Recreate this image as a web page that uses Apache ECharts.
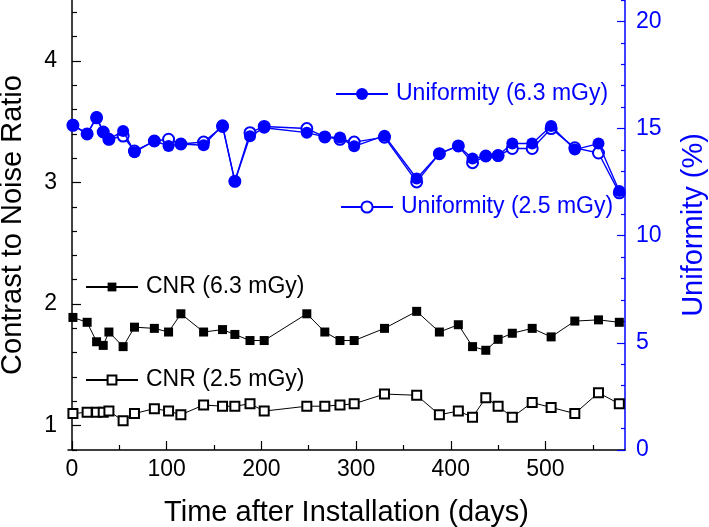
<!DOCTYPE html>
<html>
<head>
<meta charset="utf-8">
<script src="https://cdn.jsdelivr.net/npm/echarts@6/dist/echarts.min.js"></script>
<style>
html,body{margin:0;padding:0;background:#fff;}
#c{width:709px;height:527px;}
</style>
</head>
<body>
<div id="c"></div>
<script>
// ---- data ----
var days = [1,16,26,33,39,54,66,87,102,115,139,159,172,188,203,248,267,283,298,330,364,388,408,423,437,450,465,486,506,531,556,578];
var cnr63 = [1.89,1.85,1.69,1.66,1.77,1.65,1.81,1.80,1.77,1.92,1.77,1.79,1.75,1.70,1.70,1.92,1.77,1.70,1.70,1.80,1.94,1.77,1.83,1.65,1.62,1.71,1.76,1.80,1.73,1.86,1.87,1.85];
var cnr25 = [1.10,1.11,1.11,1.11,1.12,1.04,1.10,1.14,1.12,1.09,1.17,1.16,1.16,1.18,1.12,1.16,1.16,1.17,1.18,1.26,1.25,1.09,1.12,1.07,1.23,1.16,1.07,1.19,1.15,1.10,1.27,1.18];
var unif63 = [15.18,14.75,15.54,14.84,14.5,14.89,13.9,14.42,14.19,14.28,14.22,15.15,12.54,14.64,15.04,14.81,14.61,14.58,14.17,14.67,12.67,13.83,14.19,13.6,13.72,13.74,14.3,14.3,15.12,14.02,14.3,12.09];
var unif25 = [15.15,14.75,15.5,14.84,14.5,14.65,13.95,14.42,14.5,14.28,14.37,15.1,12.54,14.81,15.1,15.0,14.61,14.5,14.37,14.6,12.51,13.83,14.19,13.41,13.72,13.74,14.07,14.07,15.0,14.1,13.86,12.0];
var xMajor = [0,100,200,300,400,500];
var xMinor = [50,150,250,350,450,550];
var yLeftMajor = [1,2,3,4];
var yLeftMinor = [0.8,1.2,1.4,1.6,1.8,2.2,2.4,2.6,2.8,3.2,3.4,3.6,3.8,4.2,4.4];
var yRightMajor = [0,5,10,15,20];
var yRightMinor = [1,2,3,4,6,7,8,9,11,12,13,14,16,17,18,19,21];
var names = ['CNR (6.3 mGy)','CNR (2.5 mGy)','Uniformity (2.5 mGy)','Uniformity (6.3 mGy)'];

function pairs(xs, ys){ return xs.map(function(x,i){ return [x, ys[i]]; }); }

var FONT = '"Liberation Sans", Arial, sans-serif';
var BLUE = '#0000ff';
var BLACK = '#000000';

var chart = echarts.init(document.getElementById('c'), null, {renderer:'canvas'});

function legendAt(name, left, centerY, itemH, color){
  return {
    data:[name], left:left, top:centerY-12, padding:0, orient:'horizontal',
    itemWidth:52, itemHeight:itemH, itemGap:0,
    selectedMode:false,
    textStyle:{fontFamily:FONT, fontSize:23, color:color, lineHeight:24, padding:[0,0,0,3]}
  };
}

var option = {
  animation:false,
  backgroundColor:'#fff',
  grid:{left:68, right:84, top:0, bottom:77, containLabel:false, outerBoundsMode:'none'},
  legend:[
    legendAt(names[3], 335, 94, 15, BLUE),
    legendAt(names[2], 340, 207, 14, BLUE),
    legendAt(names[0], 85, 287, 11, BLACK),
    legendAt(names[1], 85, 380, 11, BLACK)
  ],
  xAxis:[
    {type:'value', min:-4.2, max:584, position:'bottom',
     axisLine:{show:true, lineStyle:{color:BLACK, width:1.5}},
     axisTick:{show:true, inside:true, length:9, customValues:xMajor, lineStyle:{color:BLACK, width:1.2}},
     axisLabel:{show:true, customValues:xMajor, fontFamily:FONT, fontSize:23, color:BLACK, margin:8},
     splitLine:{show:false},
     name:'Time after Installation (days)', nameLocation:'middle', nameGap:48,
     nameTextStyle:{fontFamily:FONT, fontSize:29, color:BLACK}
    },
    {type:'value', min:-4.2, max:584, position:'bottom',
     axisLine:{show:false},
     axisTick:{show:true, inside:true, length:5, customValues:xMinor, lineStyle:{color:BLACK, width:1.2}},
     axisLabel:{show:false}, splitLine:{show:false}
    }
  ],
  yAxis:[
    {type:'value', min:0.8, max:4.5, position:'left',
     axisLine:{show:true, lineStyle:{color:BLACK, width:1.5}},
     axisTick:{show:true, inside:true, length:9, customValues:yLeftMajor, lineStyle:{color:BLACK, width:1.2}},
     axisLabel:{show:true, customValues:yLeftMajor, fontFamily:FONT, fontSize:23, color:BLACK, margin:11},
     splitLine:{show:false},
     name:'Contrast to Noise Ratio', nameLocation:'middle', nameGap:41, nameRotate:90,
     nameTextStyle:{fontFamily:FONT, fontSize:29, color:BLACK}
    },
    {type:'value', min:0.8, max:4.5, position:'left',
     axisLine:{show:false},
     axisTick:{show:true, inside:true, length:5, customValues:yLeftMinor, lineStyle:{color:BLACK, width:1.2}},
     axisLabel:{show:false}, splitLine:{show:false}
    },
    {type:'value', min:0, max:21, position:'right',
     axisLine:{show:true, lineStyle:{color:BLUE, width:1.5}},
     axisTick:{show:true, inside:true, length:8, customValues:yRightMajor, lineStyle:{color:BLUE, width:1.2}},
     axisLabel:{show:true, customValues:yRightMajor, fontFamily:FONT, fontSize:23, color:BLUE, margin:11},
     splitLine:{show:false},
     name:'Uniformity (%)', nameLocation:'middle', nameGap:54, nameRotate:90,
     nameTextStyle:{fontFamily:FONT, fontSize:29, color:BLUE}
    },
    {type:'value', min:0, max:21, position:'right',
     axisLine:{show:false},
     axisTick:{show:true, inside:true, length:4, customValues:yRightMinor, lineStyle:{color:BLUE, width:1.2}},
     axisLabel:{show:false}, splitLine:{show:false}
    }
  ],
  series:[
    {name:names[0], type:'line', xAxisIndex:0, yAxisIndex:0, data:pairs(days, cnr63),
     symbol:'rect', symbolSize:9, z:3,
     lineStyle:{color:BLACK, width:1}, itemStyle:{color:BLACK}},
    {name:names[1], type:'line', xAxisIndex:0, yAxisIndex:0, data:pairs(days, cnr25),
     symbol:'emptyRect', symbolSize:9, z:3,
     lineStyle:{color:BLACK, width:1}, itemStyle:{color:BLACK, borderWidth:1.3}},
    {name:names[2], type:'line', xAxisIndex:0, yAxisIndex:2, data:pairs(days, unif25),
     symbol:'emptyCircle', symbolSize:11, z:4,
     lineStyle:{color:BLUE, width:1.4}, itemStyle:{color:BLUE, borderWidth:1.5}},
    {name:names[3], type:'line', xAxisIndex:0, yAxisIndex:2, data:pairs(days, unif63),
     symbol:'circle', symbolSize:12, z:5,
     lineStyle:{color:BLUE, width:1.4}, itemStyle:{color:BLUE}}
  ]
};
chart.setOption(option);
</script>
</body>
</html>
